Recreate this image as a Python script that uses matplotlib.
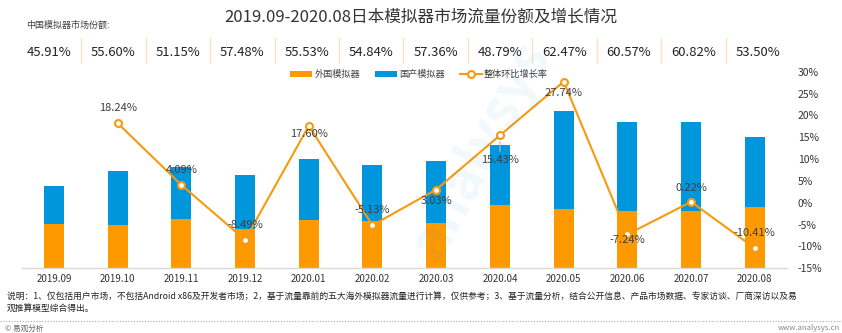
import matplotlib
matplotlib.use("Agg")
import matplotlib.pyplot as plt
import numpy as np

plt.rcParams['font.family'] = ['Noto Sans CJK SC', 'DejaVu Sans']

months = ['2019.09', '2019.10', '2019.11', '2019.12', '2020.01', '2020.02',
          '2020.03', '2020.04', '2020.05', '2020.06', '2020.07', '2020.08']
foreign = [44.7, 43.4, 49.7, 39.5, 48.6, 46.9, 45.6, 63.2, 59.2, 57.7, 57.4, 61.1]
domestic = [37.9, 54.3, 52.0, 53.5, 60.8, 56.9, 61.3, 60.2, 98.5, 88.6, 89.2, 70.3]
share_labels = ['45.91%', '55.60%', '51.15%', '57.48%', '55.53%', '54.84%',
                '57.36%', '48.79%', '62.47%', '60.57%', '60.82%', '53.50%']
growth = [np.nan, 18.24, 4.09, -8.49, 17.60, -5.13, 3.03, 15.43, 27.74, -7.24, 0.22, -10.41]

ORANGE = '#FF9900'
BLUE = '#0096DC'
LINE = '#F79A0E'
TXT = '#333333'

W, H = 842, 333
fig = plt.figure(figsize=(W / 100, H / 100), dpi=100)

ax_l = 22 / W
ax_r = 786.7 / W
ax_b = 1 - 268.3 / H
ax_t = 1 - 71.7 / H
ax = fig.add_axes([ax_l, ax_b, ax_r - ax_l, ax_t - ax_b])
ax2 = ax.twinx()

x = np.arange(len(months))
bw = 0.314
ax.bar(x, foreign, bw, color=ORANGE, label='外国模拟器', zorder=2)
ax.bar(x, domestic, bw, bottom=foreign, color=BLUE, label='国产模拟器', zorder=2)
ax.set_xlim(-0.5, len(months) - 0.5)
ax.set_ylim(0, 196.6)
ax.set_yticks([])
for s in ['top', 'left', 'right']:
    ax.spines[s].set_visible(False)
ax.spines['bottom'].set_color('#d9d9d9')
ax.spines['bottom'].set_linewidth(1.0)
ax.set_xticks(x)
ax.set_xticklabels(months, fontsize=7, color=TXT)
ax.tick_params(axis='x', length=0, pad=4)

ln, = ax2.plot(x, growth, color=LINE, lw=1.5, marker='o', markersize=5,
               markerfacecolor='white', markeredgecolor=LINE, markeredgewidth=1.5,
               label='整体环比增长率', zorder=3)
ax2.set_ylim(-15, 30)
ax2.set_yticks(np.arange(-15, 31, 5))
ax2.set_yticklabels([f'{v}%' for v in range(-15, 31, 5)], fontsize=7.5, color=TXT)
ax2.tick_params(axis='y', length=0, pad=8)
for s in ['top', 'left', 'right', 'bottom']:
    ax2.spines[s].set_visible(False)

# data label offsets (points)
offs = [None, 11, 11, 11, -6, 11, -8, -18, -8, -4, 10, 11]
for i, g in enumerate(growth):
    if np.isnan(g):
        continue
    dy = offs[i]
    ax2.annotate(f'{g:.2f}%', (x[i], g), xytext=(0, dy), textcoords='offset points',
                 ha='center', va='center', fontsize=8, color='#404040', zorder=5)
# leader for 15.43%
ax2.annotate('', (x[7], growth[7] - 0.8), xytext=(x[7], growth[7] - 4.3),
             arrowprops=dict(arrowstyle='-', color='#bfbfbf', lw=0.8))

# legend
h1, l1 = ax.get_legend_handles_labels()
leg = fig.legend(h1 + [ln], l1 + ['整体环比增长率'], loc='center',
                 bbox_to_anchor=(419 / W, 1 - 74.3 / H), ncol=3, frameon=False,
                 fontsize=6.6, handlelength=2.4, handleheight=0.65, columnspacing=1.6,
                 handletextpad=0.25, labelcolor='#404040', borderpad=0)

# title
fig.text(0.5, 1 - 17 / H, '2019.09-2020.08日本模拟器市场流量份额及增长情况',
         ha='center', va='center', fontsize=12, color=TXT)
fig.text(26 / W, 1 - 25 / H, '中国模拟器市场份额:', ha='left', va='center',
         fontsize=6.5, color='#404040')

# share row
for i, s in enumerate(share_labels):
    cx = 49 + 64.45 * i
    fig.text(cx / W, 1 - 52 / H, s, ha='center', va='center', fontsize=9.4, color='#222222')
    if i < len(share_labels) - 1:
        sx = (cx + 32.2) / W
        fig.add_artist(plt.Line2D([sx, sx], [1 - 38 / H, 1 - 63 / H],
                                  transform=fig.transFigure, color='#FBE3C8', lw=1))

# watermark
fig.text(480 / W, 1 - 150 / H, 'analysys', fontsize=40, color='#0096DC', alpha=0.06,
         rotation=62, ha='center', va='center', fontweight='bold', zorder=10)

# notes
fig.text(7 / W, 1 - 297.5 / H,
         '说明：1、仅包括用户市场，不包括Android x86及开发者市场；2，基于流量靠前的五大海外模拟器流量进行计算，仅供参考；3、基于流量分析，结合公开信息、产品市场数据、专家访谈、厂商深访以及易',
         ha='left', va='center', fontsize=6.3, color='#222222')
fig.text(7 / W, 1 - 308 / H, '观推算模型综合得出。', ha='left', va='center',
         fontsize=6.3, color='#222222')
fig.add_artist(plt.Line2D([0, 1], [1 - 320.7 / H, 1 - 320.7 / H], transform=fig.transFigure,
                          color='#aaaaaa', lw=0.8, ls=(0, (1, 1.5))))
fig.text(5 / W, 1 - 328.5 / H, '© 易观分析', ha='left', va='center', fontsize=5.5, color='#666666')
fig.text(840 / W, 1 - 328.5 / H, 'www.analysys.cn', ha='right', va='center', fontsize=5.5,
         color='#888888')

fig.savefig('out.png', dpi=100)
